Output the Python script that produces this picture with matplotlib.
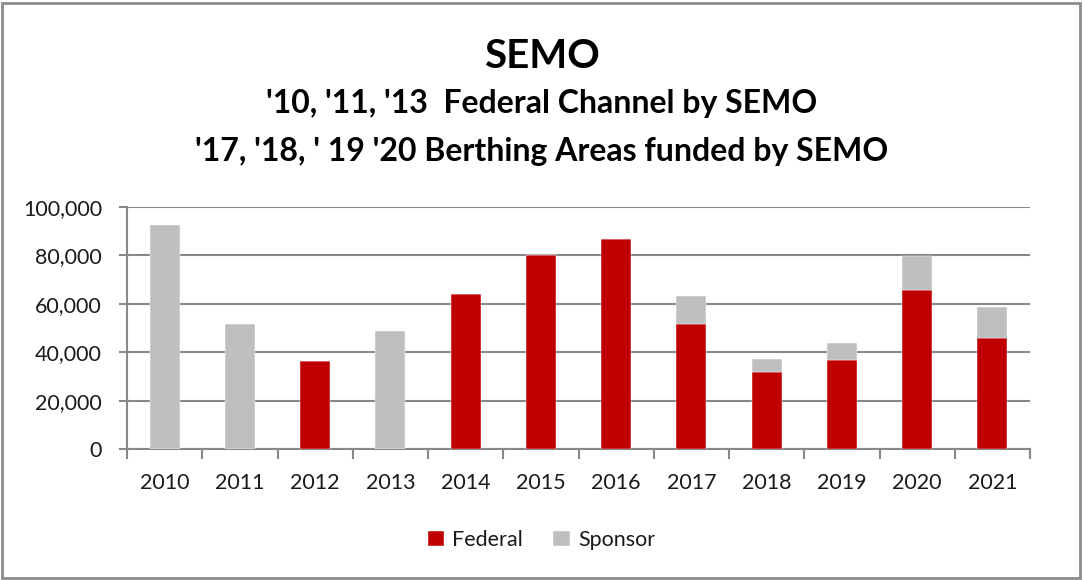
import matplotlib
matplotlib.use("Agg")
import matplotlib.pyplot as plt
import numpy as np
from matplotlib.patches import Rectangle

years = ["2010", "2011", "2012", "2013", "2014", "2015", "2016", "2017", "2018", "2019", "2020", "2021"]
federal = [0, 0, 36400, 0, 64000, 80300, 86800, 51800, 31700, 36900, 65700, 46000]
sponsor = [92700, 51800, 0, 48600, 0, 0, 0, 11500, 5600, 6900, 13900, 12700]
yticks = [0, 20000, 40000, 60000, 80000, 100000]

RED = "#C00000"
GRAY = "#BFBFBF"
GRID = "#888888"

plt.rcParams['font.family'] = ['Lato', 'DejaVu Sans']

fig = plt.figure(figsize=(10.83, 5.80), dpi=100)
W, H = 1083, 580
ax = fig.add_axes([127 / W, 1 - 449 / H, (1030 - 127) / W, (449 - 207) / H])

x = np.arange(len(years))
ax.bar(x, federal, width=0.4, color=RED, label="Federal", edgecolor="white", linewidth=0.3, zorder=3)
ax.bar(x, sponsor, width=0.4, bottom=federal, color=GRAY, label="Sponsor", edgecolor="white", linewidth=0.3, zorder=3)

ax.set_xlim(-0.5, len(years) - 0.5)
ax.set_ylim(0, 100000)
ax.set_yticks(yticks)
ax.set_yticklabels([f"{v:,}" for v in yticks], fontsize=15.5, color="#1a1a1a")
ax.yaxis.grid(True, color=GRID, linewidth=1.5, zorder=0)
ax.set_axisbelow(True)

ax.set_xticks(x)
ax.set_xticklabels(years, fontsize=15.5, color="#1a1a1a")
ax.tick_params(axis='x', length=0, pad=17)
ax.set_xticks(np.arange(-0.5, len(years)), minor=True)
ax.tick_params(axis='x', which='minor', length=7, width=1.5, color=GRID)
ax.tick_params(axis='y', length=6, width=1.5, color=GRID, pad=12)

for s in ['top', 'right']:
    ax.spines[s].set_visible(False)
for s in ['left', 'bottom']:
    ax.spines[s].set_color(GRID)
    ax.spines[s].set_linewidth(1.5)

fig.text(0.5, 1 - 56 / H, "SEMO", ha='center', va='center', fontsize=29, fontweight='bold')
fig.text(0.5, 1 - 104 / H, "'10, '11, '13  Federal Channel by SEMO", ha='center', va='center', fontsize=23, fontweight='bold')
fig.text(0.5, 1 - 151 / H, "'17, '18, ' 19 '20 Berthing Areas funded by SEMO", ha='center', va='center', fontsize=23, fontweight='bold')

leg = fig.legend(loc='center', bbox_to_anchor=(0.5, 1 - 540 / H), ncol=2, frameon=False,
                 fontsize=15.5, handlelength=0.75, handleheight=0.75, columnspacing=1.4, handletextpad=0.4)
for t in leg.get_texts():
    t.set_color("#1a1a1a")

fig.patches.append(Rectangle((2 / W, 2 / H), (W - 5) / W, (H - 5) / H, transform=fig.transFigure,
                             fill=False, edgecolor="#8C8C8C", linewidth=2))

fig.savefig("out.png", dpi=100)
